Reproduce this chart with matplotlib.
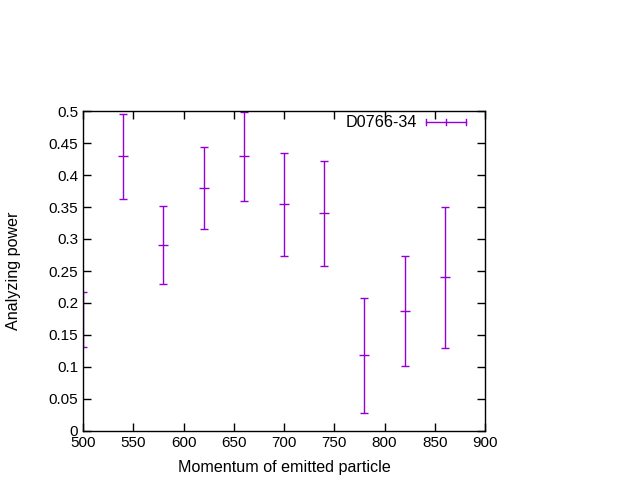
import matplotlib
matplotlib.use('Agg')
import matplotlib.pyplot as plt

momentum = [500, 540, 580, 620, 660, 700, 740, 780, 820, 860]
power = [0.174, 0.429, 0.290, 0.379, 0.429, 0.354, 0.340, 0.118, 0.187, 0.240]
power_err = [0.043, 0.067, 0.061, 0.064, 0.069, 0.081, 0.082, 0.090, 0.086, 0.110]
label = 'D0766-34'
color = '#9400d3'

plt.rcParams['font.family'] = ['Liberation Sans', 'DejaVu Sans']

fig = plt.figure(figsize=(6.4, 4.8), dpi=100)
ax = fig.add_axes([83 / 640, 1 - 431 / 480, 402 / 640, 320 / 480])

ax.errorbar(momentum, power, yerr=power_err, fmt='none', ecolor=color,
            elinewidth=1, capsize=3, capthick=1, zorder=2)
# center tick of each point (gnuplot '+' point), the edge one is hidden
ax.plot(momentum[1:], power[1:], linestyle='none', marker='_', markersize=7,
        markeredgewidth=1, color=color, zorder=2)

ax.set_xlim(500, 900)
ax.set_ylim(0, 0.5)
ax.set_xticks(range(500, 901, 50))
ax.set_yticks([i * 0.05 for i in range(11)])
ax.set_yticklabels(['0', '0.05', '0.1', '0.15', '0.2', '0.25', '0.3', '0.35',
                    '0.4', '0.45', '0.5'])
ax.tick_params(direction='in', top=True, right=True, length=6, width=1,
               labelsize=11, colors='black')
for s in ax.spines.values():
    s.set_linewidth(1)
    s.set_zorder(3)

ax.set_xlabel('Momentum of emitted particle', fontsize=11.6, labelpad=7)
ax.set_ylabel('Analyzing power', fontsize=11.6, labelpad=20)

# gnuplot style key
ky = (431 - 122) / 320
x0, x1 = (426 - 83) / 402, (466 - 83) / 402
ax.text((417 - 83) / 402, ky, label, transform=ax.transAxes, ha='right',
        va='center', fontsize=11.6)
ax.plot([x0, x1], [ky, ky], color=color, lw=1, transform=ax.transAxes,
        clip_on=False)
for xx in [x0, (x0 + x1) / 2, x1]:
    ax.plot([xx, xx], [ky - 3 / 320, ky + 3 / 320], color=color, lw=1,
            transform=ax.transAxes, clip_on=False)

fig.savefig('out.png', dpi=100)
